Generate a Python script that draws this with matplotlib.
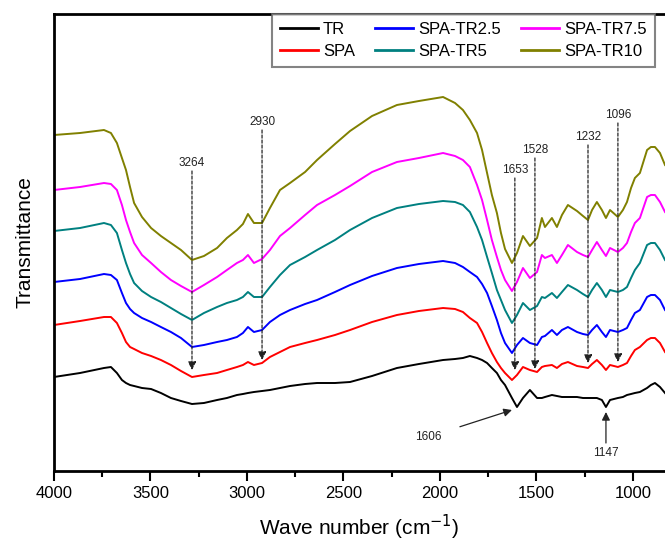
import numpy as np
import matplotlib.pyplot as plt

plt.rcParams['font.family'] = ['Liberation Sans', 'DejaVu Sans']

# Wavenumbers (cm-1) at which the spectra were read
wavenumber = [4000, 3865, 3741, 3705, 3674, 3648, 3627, 3606, 3585, 3544,
              3497, 3446, 3394, 3342, 3285, 3223, 3155, 3104, 3052, 3021,
              2995, 2964, 2922, 2881, 2829, 2777, 2699, 2637, 2544, 2466,
              2352, 2223, 2109, 1984, 1922, 1881, 1845, 1808, 1782, 1756,
              1731, 1705, 1684, 1663, 1627, 1601, 1570, 1534, 1497, 1472,
              1456, 1420, 1394, 1368, 1337, 1290, 1259, 1233, 1212, 1187,
              1161, 1140, 1119, 1078, 1052, 1031, 1010, 990, 964, 927,
              907, 886, 860, 834]

# Stacked transmittance (arbitrary units, offset per sample)
tr = [94, 98, 103, 104, 98, 91, 88, 86, 85, 83,
      82, 78, 73, 70, 67, 68, 71, 73, 76, 77,
      78, 79, 80, 81, 83, 85, 87, 88, 88, 89,
      95, 103, 107, 111, 112, 113, 115, 113, 111, 108,
      103, 98, 91, 86, 73, 64, 73, 81, 73, 73,
      74, 76, 75, 74, 74, 74, 73, 73, 73, 73,
      71, 64, 71, 73, 74, 76, 77, 78, 79, 83,
      86, 88, 84, 78]
spa = [146, 150, 154, 154, 148, 138, 129, 124, 122, 118,
       115, 111, 106, 100, 94, 96, 98, 101, 104, 106,
       109, 106, 108, 114, 119, 124, 128, 131, 136, 141,
       149, 156, 160, 163, 162, 159, 153, 148, 139, 128,
       118, 109, 103, 98, 91, 96, 104, 101, 99, 104,
       105, 106, 103, 107, 109, 105, 104, 103, 107, 111,
       106, 101, 106, 104, 106, 108, 115, 121, 124, 131,
       133, 133, 128, 119]
spa_tr25 = [189, 192, 197, 196, 191, 178, 168, 162, 158, 153,
            149, 144, 139, 133, 124, 126, 129, 131, 134, 138,
            144, 139, 141, 149, 156, 161, 167, 171, 179, 186,
            195, 203, 207, 210, 208, 204, 199, 194, 187, 178,
            165, 151, 138, 128, 118, 126, 133, 128, 126, 134,
            135, 141, 136, 141, 144, 139, 137, 136, 141, 146,
            139, 134, 141, 139, 141, 143, 151, 158, 161, 174,
            176, 176, 171, 161]
spa_tr5 = [240, 243, 248, 246, 238, 221, 208, 197, 188, 180,
           174, 169, 163, 157, 151, 158, 164, 168, 171, 174,
           179, 174, 174, 184, 196, 206, 214, 221, 231, 241,
           253, 263, 267, 270, 269, 266, 259, 244, 231, 214,
           198, 181, 171, 161, 148, 156, 168, 161, 165, 174,
           173, 178, 173, 179, 186, 181, 177, 174, 181, 188,
           181, 174, 181, 179, 181, 184, 193, 201, 208, 226,
           228, 228, 221, 211]
spa_tr75 = [281, 284, 288, 287, 281, 266, 251, 239, 228, 216,
            208, 199, 191, 185, 179, 186, 194, 201, 208, 211,
            216, 208, 212, 221, 235, 243, 256, 266, 276, 285,
            299, 309, 313, 318, 315, 311, 304, 286, 271, 251,
            231, 214, 201, 191, 180, 189, 203, 193, 199, 216,
            213, 216, 208, 216, 226, 219, 216, 214, 221, 229,
            221, 215, 223, 219, 223, 228, 239, 248, 253, 274,
            276, 276, 269, 259]
spa_tr10 = [336, 338, 341, 338, 328, 313, 301, 284, 268, 254,
            243, 235, 228, 221, 211, 215, 223, 233, 241, 247,
            257, 248, 248, 263, 281, 288, 299, 311, 327, 340,
            355, 366, 370, 374, 368, 361, 351, 338, 321, 298,
            276, 258, 238, 222, 208, 218, 235, 225, 233, 253,
            244, 253, 244, 256, 266, 260, 255, 251, 261, 269,
            261, 253, 261, 254, 261, 269, 283, 293, 298, 321,
            324, 324, 318, 306]

labels = ['TR', 'SPA', 'SPA-TR2.5', 'SPA-TR5', 'SPA-TR7.5', 'SPA-TR10']
colors = ['black', '#ff0000', '#0000ff', '#008080', '#ff00ff', '#808000']

# Band labels with dashed arrows: text, arrow x, label y, arrow tip y
band_text = ['3264', '2930', '1653', '1528', '1232', '1096']
band_x = [3285, 2922, 1612, 1508, 1233, 1078]
band_label_y = [308, 349, 301, 321, 334, 356]
band_tip_y = [101, 111, 101, 102, 108, 109]


def plot_spectra(ax):
    series = [tr, spa, spa_tr25, spa_tr5, spa_tr75, spa_tr10]
    for y, lab, c in zip(series, labels, colors):
        ax.plot(wavenumber, y, color=c, lw=1.4, label=lab)


def add_band_marks(ax):
    for txt, x, ly, ty in zip(band_text, band_x, band_label_y, band_tip_y):
        ax.text(x, ly, txt, ha='center', va='center', fontsize=8.5, color='#222222')
        ax.annotate('', xy=(x, ty), xytext=(x, ly - 8),
                    arrowprops=dict(arrowstyle='-|>', color='#222222', lw=0.9,
                                    linestyle=(0, (2.5, 1.5)), mutation_scale=12,
                                    shrinkA=0, shrinkB=0))

    # solid arrows on the TR curve
    ax.annotate('1606', xy=(1627, 61), xytext=(2062, 34), ha='center', va='center',
                fontsize=8.5, color='#222222',
                arrowprops=dict(arrowstyle='-|>', color='#222222', lw=0.9,
                                mutation_scale=12, shrinkA=12, shrinkB=0))
    ax.annotate('', xy=(1140, 59), xytext=(1140, 28),
                arrowprops=dict(arrowstyle='-|>', color='#222222', lw=0.9,
                                mutation_scale=12, shrinkA=0, shrinkB=0))
    ax.text(1140, 18, '1147', ha='center', va='center', fontsize=8.5, color='#222222')


def main():
    fig = plt.figure(figsize=(6.65, 5.43), dpi=100)
    ax = fig.add_axes([54 / 665, 72 / 543, 611 / 665, 457 / 543])

    plot_spectra(ax)
    add_band_marks(ax)

    ax.set_xlim(4000, 834)
    ax.set_ylim(0, 457)
    ax.set_xticks([4000, 3500, 3000, 2500, 2000, 1500, 1000])
    ax.set_xticks([3750, 3250, 2750, 2250, 1750, 1250], minor=True)
    ax.set_yticks([])
    ax.tick_params(axis='x', which='major', direction='out', length=7, width=1.5,
                   labelsize=12, pad=4)
    ax.tick_params(axis='x', which='minor', direction='out', length=4, width=1.5)
    for side in ['left', 'bottom', 'top']:
        ax.spines[side].set_linewidth(2)
    ax.spines['right'].set_visible(False)

    ax.set_xlabel('Wave number (cm$^{-1}$)', fontsize=15, labelpad=8)
    ax.set_ylabel('Transmittance', fontsize=15, labelpad=14)

    leg = ax.legend(loc='upper left', bbox_to_anchor=(0.357, 1.0), ncol=3,
                    fontsize=12, frameon=True, fancybox=False, borderaxespad=0,
                    handlelength=2.3, handletextpad=0.3, columnspacing=1.2,
                    labelspacing=0.45, borderpad=0.45)
    leg.get_frame().set_edgecolor('#666666')
    leg.get_frame().set_linewidth(1.5)
    for line in leg.get_lines():
        line.set_linewidth(2)

    fig.savefig('out.png', dpi=100)


if __name__ == "__main__":
    main()
